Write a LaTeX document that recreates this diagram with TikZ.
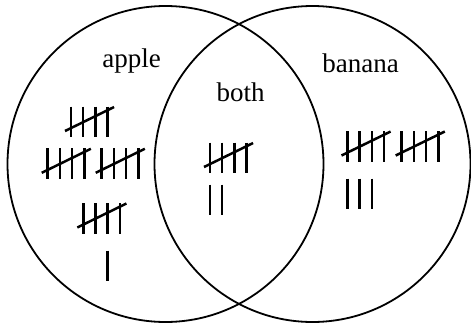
\documentclass[tikz,border=0pt]{standalone}
\usepackage{fontspec}
\setmainfont{Liberation Serif}
\newcommand\tallyfive[2]{%
  \foreach \k in {0,1,2,3}{\draw[tallyline] ({#1+12.2*\k},#2) -- ++(0,30.5);}
  \draw[tallyline] ({#1-6},{#2+24.5}) -- ({#1+43.1},{#2+0.5});}
\newcommand\tallybars[3]{%
  \foreach \k in {1,...,#3}{\draw[tallyline] ({#1+12.2*(\k-1)},#2) -- ++(0,30.5);}}
\begin{document}
\begin{tikzpicture}[x=1pt,y=-1pt,
  ring/.style={line width=1.8pt},
  tallyline/.style={line width=2.5pt},
  lbl/.style={font=\fontsize{27}{32}\selectfont, anchor=base, inner sep=0pt}]
\useasboundingbox (0,0) rectangle (471,324);
\draw[ring] (165.5,164) circle[radius=158];
\draw[ring] (312.5,164) circle[radius=158];
\node[lbl] (apple) at (131.7,67.3) {apple};
\node[lbl] (both) at (240.5,101.7) {both};
\node[lbl] (banana) at (360.5,72.7) {banana};
\tallyfive{71}{106.5}
\tallyfive{47.7}{148.3}
\tallyfive{101.7}{148.3}
\tallyfive{83.3}{203}
\tallybars{107.7}{250.5}{1}
\tallyfive{210}{142.5}
\tallybars{210}{184.5}{2}
\tallyfive{347.5}{131}
\tallyfive{401.7}{131}
\tallybars{347.5}{178.7}{3}
\end{tikzpicture}
\end{document}
